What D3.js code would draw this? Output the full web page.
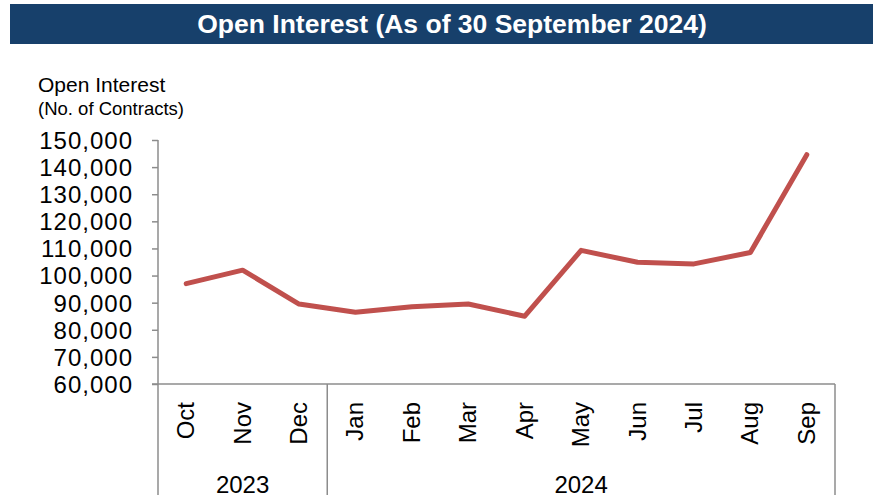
<!DOCTYPE html>
<html><head><meta charset="utf-8">
<script src="https://cdn.jsdelivr.net/npm/d3@7"></script>
<style>body{margin:0;background:#fff;font-family:"Liberation Sans",Arial,sans-serif;}</style>
</head><body><svg id="c" width="873" height="495"></svg>
<script>
const months = ["Oct","Nov","Dec","Jan","Feb","Mar","Apr","May","Jun","Jul","Aug","Sep"];
const years = [{label:"2023", from:0, to:3},{label:"2024", from:3, to:12}];
const openInterest = [97000,102000,89500,86500,88500,89500,85000,109300,104900,104300,108500,144600];
const yTicks = [60000,70000,80000,90000,100000,110000,120000,130000,140000,150000];
const title = "Open Interest (As of 30 September 2024)";

(function(){
const svg = d3.select("#c");
const W = 873, H = 495;
const mLeft = 158, mRight = 835, mTop = 140, mBottom = 384;
const axisColor = "#8c8c8c";

// title bar
svg.append("rect").attr("x",10).attr("y",4).attr("width",W-10).attr("height",40).attr("fill","#17406b");
svg.append("text").attr("x",452).attr("y",33).attr("text-anchor","middle")
  .attr("fill","#fff").attr("font-weight","bold").attr("font-size",26.5).text(title);

// axis title
svg.append("text").attr("x",38).attr("y",92).attr("font-size",21).attr("fill","#000").text("Open Interest");
svg.append("text").attr("x",38).attr("y",115).attr("font-size",18.5).attr("fill","#000").text("(No. of Contracts)");

const x = d3.scaleBand().domain(d3.range(months.length)).range([mLeft,mRight]);
const y = d3.scaleLinear().domain([60000,150000]).range([mBottom,mTop]);

// y axis
const yAxis = d3.axisLeft(y).tickValues(yTicks).tickSize(6).tickPadding(19)
  .tickFormat(d3.format(","));
const gy = svg.append("g").attr("transform",`translate(${mLeft},0)`).call(yAxis);
gy.select(".domain").remove();
gy.selectAll(".tick line").attr("stroke",axisColor).attr("stroke-width",1.5);
gy.selectAll(".tick text").attr("font-size",24).attr("fill","#000")
  .attr("font-family","'Liberation Sans',Arial,sans-serif").attr("letter-spacing","1px").attr("dy","0.35em");

// axis lines
svg.append("line").attr("x1",mLeft).attr("x2",mLeft).attr("y1",mTop).attr("y2",H).attr("stroke",axisColor).attr("stroke-width",1.5);
svg.append("line").attr("x1",mLeft-6).attr("x2",mRight).attr("y1",mBottom).attr("y2",mBottom).attr("stroke",axisColor).attr("stroke-width",1.5);
years.forEach(g=>{
  const xe = g.to>=months.length ? mRight : x(g.to);
  svg.append("line").attr("x1",xe).attr("x2",xe).attr("y1",mBottom).attr("y2",H).attr("stroke",axisColor).attr("stroke-width",1.5);
  const xs = x(g.from);
  svg.append("text").attr("x",(xs+xe)/2).attr("y",493).attr("text-anchor","middle").attr("font-size",24).attr("fill","#000").text(g.label);
});

// month labels
months.forEach((m,i)=>{
  const cx = x(i)+x.bandwidth()/2;
  svg.append("text").attr("transform",`translate(${cx+8},402) rotate(-90)`)
    .attr("text-anchor","end").attr("font-size",24).attr("fill","#000").text(m);
});

// line
const line = d3.line().x((d,i)=>x(i)+x.bandwidth()/2).y(d=>y(d));
svg.append("path").datum(openInterest).attr("d",line).attr("fill","none")
  .attr("stroke","#c0504d").attr("stroke-width",5).attr("stroke-linejoin","round").attr("stroke-linecap","round");
})();
</script></body></html>
